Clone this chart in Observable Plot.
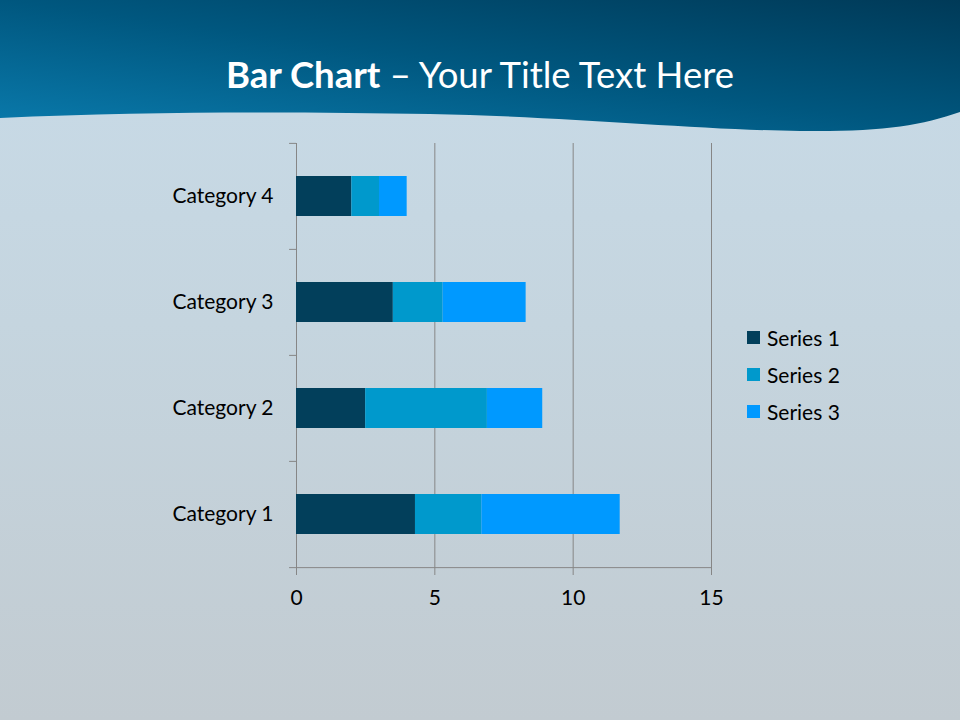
<!DOCTYPE html>
<html>
<head>
<meta charset="utf-8">
<script src="https://cdn.jsdelivr.net/npm/d3@7"></script>
<script src="https://cdn.jsdelivr.net/npm/@observablehq/plot@0.6"></script>
<style>
  html, body { margin: 0; padding: 0; }
  #slide {
    position: relative; width: 960px; height: 720px; overflow: hidden;
    background: linear-gradient(180deg, #c8dbe8 0%, #c5d5df 45%, #c2cbd1 100%);
    font-family: Lato, "Open Sans", sans-serif;
  }
  #wave { position: absolute; left: 0; top: 0; }
  #title {
    position: absolute; top: 51px; left: 0; width: 960px; text-align: center;
    color: #ffffff; font-size: 36.5px; line-height: 46px; font-weight: 400;
  }
  #title b { font-weight: 700; }
  #chart { position: absolute; left: 0; top: 130px; }
  #legend { position: absolute; left: 747px; top: 319px; font-size: 21px; color: #000; }
  .item { display: flex; align-items: center; height: 37px; }
  .sw { width: 13px; height: 13px; margin-right: 7px; }
</style>
</head>
<body>
<div id="slide">
  <svg id="wave" width="960" height="140" viewBox="0 0 960 140">
    <defs>
      <linearGradient id="hg" x1="0" y1="1" x2="1" y2="0">
        <stop offset="0" stop-color="#0a7bad"/>
        <stop offset="0.5" stop-color="#00577f"/>
        <stop offset="1" stop-color="#003a58"/>
      </linearGradient>
    </defs>
    <path d="M0,0 H960 V112 C920,126 880,132 800,131 C700,130 560,116 430,114 C300,112 150,111 0,118 Z" fill="url(#hg)"/>
  </svg>
  <div id="title"><b>Bar Chart</b> – Your Title Text Here</div>
  <div id="chart"></div>
  <div id="legend"></div>
</div>
<script>
const categories = ["Category 1", "Category 2", "Category 3", "Category 4"];
const seriesNames = ["Series 1", "Series 2", "Series 3"];
const series1 = [4.3, 2.5, 3.5, 2];
const series2 = [2.4, 4.4, 1.8, 1];
const series3 = [5, 2, 3, 1];
const seriesColors = ["#023f5b", "#0099cc", "#0099ff"];
const xTicks = [0, 5, 10, 15];

const data = [];
[series1, series2, series3].forEach((vals, si) =>
  vals.forEach((v, ci) => data.push({category: categories[ci], series: seriesNames[si], value: v}))
);

const W = 760, H = 490, mT = 13, mB = 52, mL = 296, mR = 49;
const step = (H - mT - mB) / categories.length;
const gridColor = "#868686";

const plot = Plot.plot({
  width: W, height: H,
  marginLeft: mL, marginRight: mR, marginTop: mT, marginBottom: mB,
  style: {background: "transparent", fontFamily: "Lato, 'Open Sans', sans-serif", fontSize: "21px", color: "#000", overflow: "visible"},
  x: {domain: [0, 15], ticks: xTicks, label: null},
  y: {domain: categories.slice().reverse(), paddingInner: 0.62, paddingOuter: 0.31, label: null},
  color: {domain: seriesNames, range: seriesColors},
  marks: [
    Plot.ruleX(xTicks, {stroke: gridColor, strokeWidth: 1}),
    Plot.ruleY(categories, {y: d => d, x1: -0.25, x2: 0, dy: -step / 2, stroke: gridColor}),
    Plot.ruleY([categories[0]], {y: d => d, x1: -0.25, x2: 15, dy: step / 2, stroke: gridColor}),
    Plot.barX(data, {x: "value", y: "category", fill: "series"}),
    Plot.axisY({tickSize: 0, tickPadding: 23, fill: "#000", fontSize: 21}),
    Plot.axisX({ticks: xTicks, tickSize: 7, tickPadding: 15, stroke: gridColor, fill: "#000", fontSize: 21})
  ]
});
document.getElementById("chart").appendChild(plot);

const legend = d3.select("#legend");
seriesNames.forEach((s, i) => {
  const it = legend.append("div").attr("class", "item");
  it.append("div").attr("class", "sw").style("background", seriesColors[i]);
  it.append("span").text(s);
});
</script>
</body>
</html>
